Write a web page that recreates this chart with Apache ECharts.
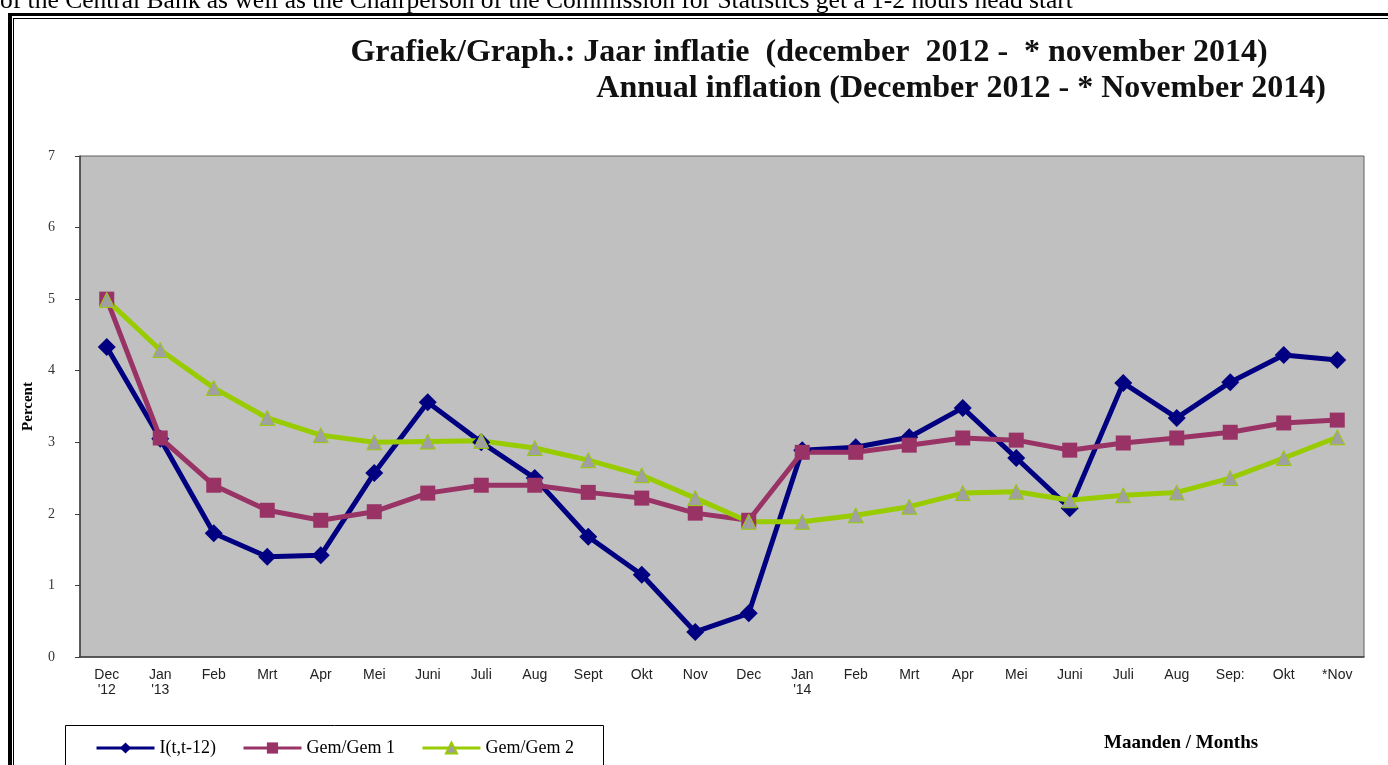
<!DOCTYPE html>
<html>
<head>
<meta charset="utf-8">
<title>Annual inflation</title>
<script src="https://cdn.jsdelivr.net/npm/echarts@6/dist/echarts.min.js"></script>
<style>
  html, body { margin: 0; padding: 0; background: #ffffff; overflow: hidden; }
  #chart { width: 1388px; height: 765px; }
</style>
</head>
<body>
<div id="chart"></div>
<script>
// -- Data --
const months = [
  "Dec\n'12", "Jan\n'13", 'Feb', 'Mrt', 'Apr', 'Mei', 'Juni', 'Juli', 'Aug', 'Sept', 'Okt', 'Nov',
  'Dec', "Jan\n'14", 'Feb', 'Mrt', 'Apr', 'Mei', 'Juni', 'Juli', 'Aug', 'Sep:', 'Okt', '*Nov'
];
const yoy = [
  4.33, 3.05, 1.73, 1.40, 1.42, 2.57, 3.56, 3.00, 2.50, 1.68, 1.15, 0.35,
  0.61, 2.89, 2.93, 3.07, 3.48, 2.78, 2.08, 3.83, 3.34, 3.84, 4.22, 4.15
];
const avg1 = [
  5.00, 3.06, 2.40, 2.05, 1.91, 2.03, 2.29, 2.40, 2.40, 2.30, 2.22, 2.01,
  1.91, 2.86, 2.86, 2.96, 3.06, 3.03, 2.89, 2.99, 3.06, 3.14, 3.27, 3.31
];
const avg2 = [
  4.99, 4.29, 3.76, 3.34, 3.10, 3.00, 3.01, 3.02, 2.92, 2.75, 2.54, 2.22,
  1.89, 1.89, 1.98, 2.10, 2.29, 2.31, 2.19, 2.26, 2.30, 2.50, 2.78, 3.07
];
const seriesNames = ['I(t,t-12)', 'Gem/Gem 1', 'Gem/Gem 2'];
const yTicks = { min: 0, max: 7, interval: 1 };

// -- Colors / fonts --
const COLORS = {
  blue: '#000080',
  plum: '#993366',
  lime: '#99CC00',
  marker: '#A0A0A0',
  plot: '#C0C0C0',
  axis: '#404040',
  text: '#222222'
};
const SERIF = '"Liberation Serif", "DejaVu Serif", serif';
const SANS = '"Liberation Sans", Arial, sans-serif';

const chart = echarts.init(document.getElementById('chart'), null, { renderer: 'canvas' });

chart.setOption({
  animation: false,
  backgroundColor: '#ffffff',
  grid: {
    left: 80, right: 24, top: 156, bottom: 108,
    show: true,
    backgroundColor: COLORS.plot,
    borderColor: '#606060',
    borderWidth: 1
  },
  legend: {
    left: 90,
    top: 734,
    itemWidth: 58,
    itemHeight: 14,
    itemGap: 26,
    lineStyle: { width: 3 },
    textStyle: { fontFamily: SERIF, fontSize: 18, color: '#000' },
    data: seriesNames
  },
  xAxis: {
    type: 'category',
    data: months,
    boundaryGap: true,
    axisLine: { lineStyle: { color: COLORS.axis, width: 1.5 } },
    axisTick: { length: 5, lineStyle: { color: COLORS.axis } },
    axisLabel: {
      interval: 0,
      margin: 11,
      fontFamily: SANS,
      fontSize: 14,
      lineHeight: 15,
      color: COLORS.text
    },
    splitLine: { show: false }
  },
  yAxis: {
    type: 'value',
    min: yTicks.min,
    max: yTicks.max,
    interval: yTicks.interval,
    name: 'Percent',
    nameLocation: 'middle',
    nameRotate: 90,
    nameGap: 44,
    nameTextStyle: { fontFamily: SERIF, fontSize: 15, fontWeight: 'bold', color: '#000' },
    axisLine: { show: true, lineStyle: { color: COLORS.axis, width: 1.5 } },
    axisTick: { show: true, length: 5, lineStyle: { color: COLORS.axis } },
    axisLabel: { margin: 25, fontFamily: SERIF, fontSize: 14, color: '#333' },
    splitLine: { show: false }
  },
  series: [
    {
      name: seriesNames[0],
      type: 'line',
      data: yoy,
      symbol: 'diamond',
      symbolSize: 18,
      lineStyle: { color: COLORS.blue, width: 5 },
      itemStyle: { color: COLORS.blue }
    },
    {
      name: seriesNames[1],
      type: 'line',
      data: avg1,
      symbol: 'rect',
      symbolSize: 15,
      lineStyle: { color: COLORS.plum, width: 5 },
      itemStyle: { color: COLORS.plum }
    },
    {
      name: seriesNames[2],
      type: 'line',
      data: avg2,
      symbol: 'triangle',
      symbolSize: 15,
      lineStyle: { color: COLORS.lime, width: 5 },
      itemStyle: { color: COLORS.marker, borderColor: COLORS.lime, borderWidth: 1 }
    }
  ],
  graphic: [
    // page text cut off above the chart frame
    {
      type: 'text', left: 0, top: -12,
      style: {
        text: 'of the Central Bank as well as the Chairperson of the Commission for Statistics get a 1-2 hours head start',
        font: '25.5px ' + SERIF, fill: '#000'
      }
    },
    // frame: thick + thin line on top and left
    { type: 'rect', shape: { x: 8, y: 13, width: 1380, height: 3 }, style: { fill: '#000' } },
    { type: 'rect', shape: { x: 13, y: 18, width: 1375, height: 1 }, style: { fill: '#000' } },
    { type: 'rect', shape: { x: 8, y: 13, width: 4, height: 752 }, style: { fill: '#000' } },
    { type: 'rect', shape: { x: 13, y: 18, width: 1, height: 747 }, style: { fill: '#000' } },
    // title
    {
      type: 'text', x: 809, y: 53,
      style: {
        text: 'Grafiek/Graph.: Jaar inflatie  (december  2012 -  * november 2014)',
        font: 'bold 32px ' + SERIF, fill: '#111', align: 'center', verticalAlign: 'middle'
      }
    },
    {
      type: 'text', x: 1326, y: 89,
      style: {
        text: 'Annual inflation (December 2012 - * November 2014)',
        font: 'bold 32px ' + SERIF, fill: '#111', align: 'right', verticalAlign: 'middle'
      }
    },
    // legend box
    {
      type: 'rect', z: -1,
      shape: { x: 65.5, y: 725.5, width: 538, height: 50 },
      style: { fill: '#fff', stroke: '#000', lineWidth: 1 }
    },
    // x axis title
    {
      type: 'text', x: 1104, y: 743,
      style: {
        text: 'Maanden / Months',
        font: 'bold 19px ' + SERIF, fill: '#000', verticalAlign: 'middle'
      }
    }
  ]
});

window.addEventListener('resize', () => chart.resize());
</script>
</body>
</html>
